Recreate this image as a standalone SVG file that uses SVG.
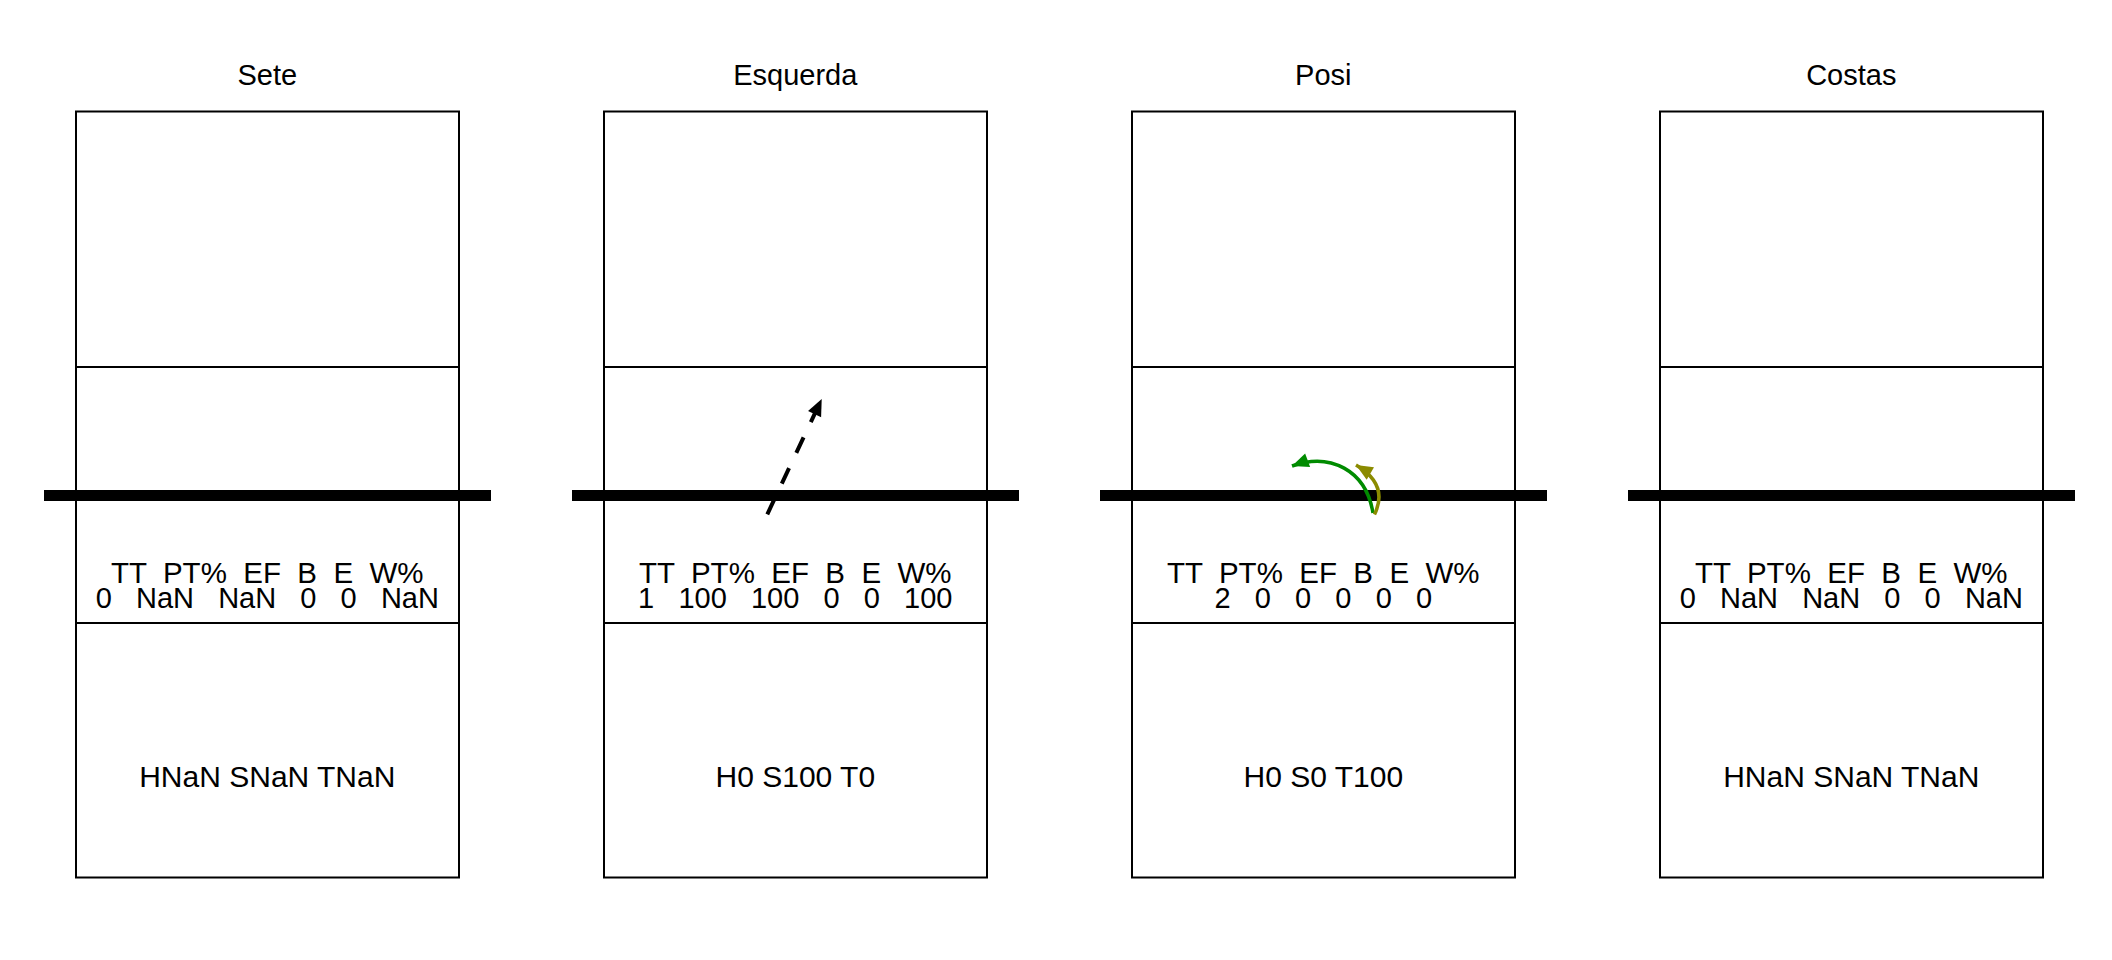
<svg xmlns="http://www.w3.org/2000/svg" width="2112" height="960" viewBox="0 0 2112 960">
<style>
  .court{fill:none;stroke:#000;stroke-width:2}
  .net{stroke:#000;stroke-width:11}
  .title{font-family:"Liberation Sans",Arial,sans-serif;font-size:29px;fill:#000;text-anchor:middle}
  .stat{font-family:"Liberation Sans",Arial,sans-serif;font-size:29.5px;fill:#000;text-anchor:middle;white-space:pre}
  .val{font-size:29px}
  .zone{font-family:"Liberation Sans",Arial,sans-serif;font-size:30px;fill:#000;text-anchor:middle}
</style>
<defs>
  <marker id="ahBlack" markerUnits="userSpaceOnUse" markerWidth="20" markerHeight="20" viewBox="-16 -8 18 16" refX="0" refY="0" orient="auto">
    <path d="M0,0 L-15,-6.5 L-15,6.5 Z" fill="#000"/>
  </marker>
  <marker id="ahGreen" markerUnits="userSpaceOnUse" markerWidth="20" markerHeight="20" viewBox="-16 -8 18 16" refX="0" refY="0" orient="auto">
    <path d="M0,0 L-15,-6.5 L-15,6.5 Z" fill="#008B00"/>
  </marker>
  <marker id="ahOlive" markerUnits="userSpaceOnUse" markerWidth="20" markerHeight="20" viewBox="-16 -8 18 16" refX="0" refY="0" orient="auto">
    <path d="M0,0 L-15,-6.5 L-15,6.5 Z" fill="#8B8B00"/>
  </marker>
</defs>
<rect x="0" y="0" width="2112" height="960" fill="#fff"/>

<g id="panel-sete">
  <text class="title" x="267.3" y="85">Sete</text>
  <rect class="court" x="76" y="111.5" width="383" height="766"/>
  <line class="court" x1="76" y1="367" x2="459" y2="367"/>
  <line class="court" x1="76" y1="623" x2="459" y2="623"/>
  <line class="net" x1="44" y1="495.5" x2="491" y2="495.5"/>
  <text class="stat" x="267.3" y="583" xml:space="preserve">TT  PT%  EF  B  E  W%</text>
  <text class="stat val" x="267.3" y="608" xml:space="preserve">0   NaN   NaN   0   0   NaN</text>
  <text class="zone" x="267.3" y="787">HNaN SNaN TNaN</text>
</g>

<g id="panel-esquerda">
  <text class="title" x="795.3" y="85">Esquerda</text>
  <rect class="court" x="604" y="111.5" width="383" height="766"/>
  <line class="court" x1="604" y1="367" x2="987" y2="367"/>
  <line class="court" x1="604" y1="623" x2="987" y2="623"/>
  <line class="net" x1="572" y1="495.5" x2="1019" y2="495.5"/>
  <text class="stat" x="795.3" y="583" xml:space="preserve">TT  PT%  EF  B  E  W%</text>
  <text class="stat val" x="795.3" y="608" xml:space="preserve">1   100   100   0   0   100</text>
  <text class="zone" x="795.3" y="787">H0 S100 T0</text>
</g>

<g id="panel-posi">
  <text class="title" x="1323.3" y="85">Posi</text>
  <rect class="court" x="1132" y="111.5" width="383" height="766"/>
  <line class="court" x1="1132" y1="367" x2="1515" y2="367"/>
  <line class="court" x1="1132" y1="623" x2="1515" y2="623"/>
  <line class="net" x1="1100" y1="495.5" x2="1547" y2="495.5"/>
  <text class="stat" x="1323.3" y="583" xml:space="preserve">TT  PT%  EF  B  E  W%</text>
  <text class="stat val" x="1323.3" y="608" xml:space="preserve">2   0   0   0   0   0</text>
  <text class="zone" x="1323.3" y="787">H0 S0 T100</text>
</g>

<g id="panel-costas">
  <text class="title" x="1851.3" y="85">Costas</text>
  <rect class="court" x="1660" y="111.5" width="383" height="766"/>
  <line class="court" x1="1660" y1="367" x2="2043" y2="367"/>
  <line class="court" x1="1660" y1="623" x2="2043" y2="623"/>
  <line class="net" x1="1628" y1="495.5" x2="2075" y2="495.5"/>
  <text class="stat" x="1851.3" y="583" xml:space="preserve">TT  PT%  EF  B  E  W%</text>
  <text class="stat val" x="1851.3" y="608" xml:space="preserve">0   NaN   NaN   0   0   NaN</text>
  <text class="zone" x="1851.3" y="787">HNaN SNaN TNaN</text>
</g>

<g id="connectors" fill="none">
  <path d="M767.3,514.3 L821.7,399" stroke="#000" stroke-width="4" stroke-dasharray="17 17" marker-end="url(#ahBlack)"/>
  <path d="M1373,513 C1366,470 1330,452 1292,466" stroke="#008B00" stroke-width="3.5" marker-end="url(#ahGreen)"/>
  <path d="M1374.5,514.5 C1384,495 1378,478 1356,465" stroke="#8B8B00" stroke-width="3.5" marker-end="url(#ahOlive)"/>
</g>
</svg>
